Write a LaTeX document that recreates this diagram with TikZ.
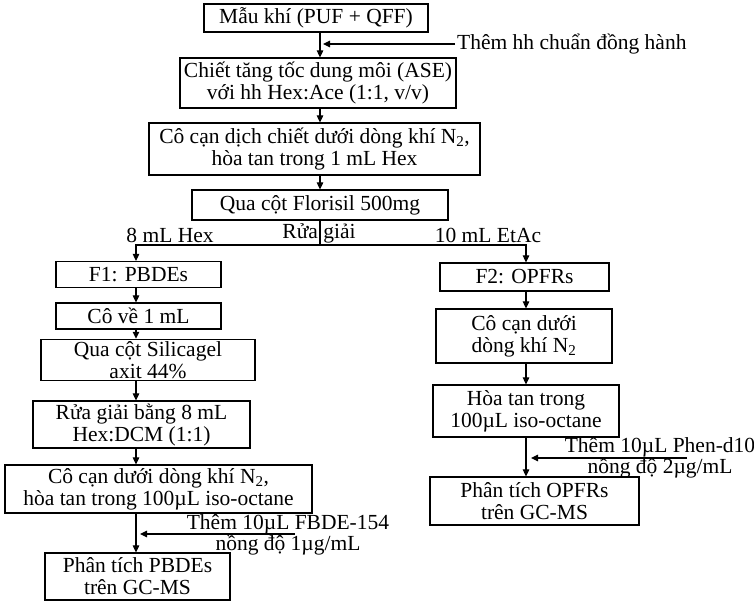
\documentclass[tikz,border=0pt]{standalone}
\usepackage{fontspec}
\setmainfont{Liberation Serif}
\usetikzlibrary{arrows.meta}
\begin{document}
\begin{tikzpicture}[x=1pt, y=-1pt]
\tikzset{buoc/.style={draw, line width=1.2pt, align=center, inner sep=2pt, font=\fontsize{21.5}{22}\selectfont},
  nhan/.style={align=center, inner sep=0pt, font=\fontsize{21.5}{21}\selectfont},
  mui/.style={line width=1.1pt, -{Triangle[length=7pt, width=6.5pt]}},
  duong/.style={line width=1.1pt}}
\useasboundingbox (0,0) rectangle (754,603);
\coordinate (trunk) at (320,0);
\coordinate (ltrunk) at (136,0);
\coordinate (rtrunk) at (526,0);
\node[buoc, minimum width=224pt, minimum height=28pt] (mau) at (316,18) {Mẫu khí (PUF + QFF)};
\node[buoc, minimum width=276pt, minimum height=50pt] (ase) at (318,83) {Chiết tăng tốc dung môi (ASE)\\với hh Hex:Ace (1:1, v/v)};
\node[buoc, minimum width=331pt, minimum height=52pt] (cocan) at (314.5,149) {Cô cạn dịch chiết dưới dòng khí N\textsubscript{2},\\hòa tan trong 1 mL Hex};
\node[buoc, minimum width=256pt, minimum height=30pt] (florisil) at (320,205) {Qua cột Florisil 500mg};
\node[buoc, minimum width=165pt, minimum height=26pt] (fmot) at (138.5,274.5) {F1: PBDEs};
\node[buoc, minimum width=165pt, minimum height=26pt] (cove) at (138.5,316) {Cô về 1 mL};
\node[buoc, minimum width=214pt, minimum height=34pt] (silica) at (148,360) {Qua cột Silicagel\\axit 44\%};
\node[buoc, minimum width=217pt, minimum height=47pt] (ruagiai) at (141.5,424.5) {Rửa giải bằng 8 mL\\Hex:DCM (1:1)};
\node[buoc, minimum width=307pt, minimum height=48pt] (cocanhai) at (158.5,489) {Cô cạn dưới dòng khí N\textsubscript{2},\\hòa tan trong 100µL iso-octane};
\node[buoc, minimum width=185pt, minimum height=47pt] (pbde) at (137.5,576.5) {Phân tích PBDEs\\trên GC-MS};
\node[buoc, minimum width=169pt, minimum height=28pt] (fhai) at (524.5,277) {F2: OPFRs};
\node[buoc, minimum width=176pt, minimum height=54pt] (cocanba) at (524,336) {Cô cạn dưới\\dòng khí N\textsubscript{2}};
\node[buoc, minimum width=186pt, minimum height=52pt] (hoatan) at (526,411) {Hòa tan trong\\100µL iso-octane};
\node[buoc, minimum width=209pt, minimum height=48pt] (opfr) at (534.5,501) {Phân tích OPFRs\\trên GC-MS};
\node[nhan, anchor=west] (themmot) at (457,44) {Thêm hh chuẩn đồng hành};
\node[nhan] (hex) at (170,235) {8 mL Hex};
\node[nhan] (rua) at (319,233) {Rửa giải};
\node[nhan] (etac) at (488,235) {10 mL EtAc};
\node[nhan] (themhai) at (288,535) {Thêm 10µL FBDE-154\\nồng độ 1µg/mL};
\node[nhan] (themba) at (660,458) {Thêm 10µL Phen-d10\\nồng độ 2µg/mL};
\coordinate (tach) at (320,245);
\coordinate (vaomot) at (455,44);
\coordinate (vaohai) at (295,534);
\coordinate (vaoba) at (687,458);
\draw[mui] (mau.south -| trunk) -- (ase.north -| trunk);
\draw[mui, shorten >=3pt] (vaomot) -- (vaomot -| trunk);
\draw[mui] (ase.south -| trunk) -- (cocan.north -| trunk);
\draw[mui] (cocan.south -| trunk) -- (florisil.north -| trunk);
\draw[duong] (florisil.south -| trunk) -- (tach);
\draw[mui] (tach) -| (fmot.north -| ltrunk);
\draw[mui] (tach) -| (fhai.north -| rtrunk);
\draw[mui] (fmot.south -| ltrunk) -- (cove.north -| ltrunk);
\draw[mui] (cove.south -| ltrunk) -- (silica.north -| ltrunk);
\draw[mui] (silica.south -| ltrunk) -- (ruagiai.north -| ltrunk);
\draw[mui] (ruagiai.south -| ltrunk) -- (cocanhai.north -| ltrunk);
\draw[mui] (cocanhai.south -| ltrunk) -- (pbde.north -| ltrunk);
\draw[mui, shorten >=4pt] (vaohai) -- (vaohai -| ltrunk);
\draw[mui] (fhai.south -| rtrunk) -- (cocanba.north -| rtrunk);
\draw[mui] (cocanba.south -| rtrunk) -- (hoatan.north -| rtrunk);
\draw[mui] (hoatan.south -| rtrunk) -- (opfr.north -| rtrunk);
\draw[mui, shorten >=5pt] (vaoba) -- (vaoba -| rtrunk);
\end{tikzpicture}
\end{document}
